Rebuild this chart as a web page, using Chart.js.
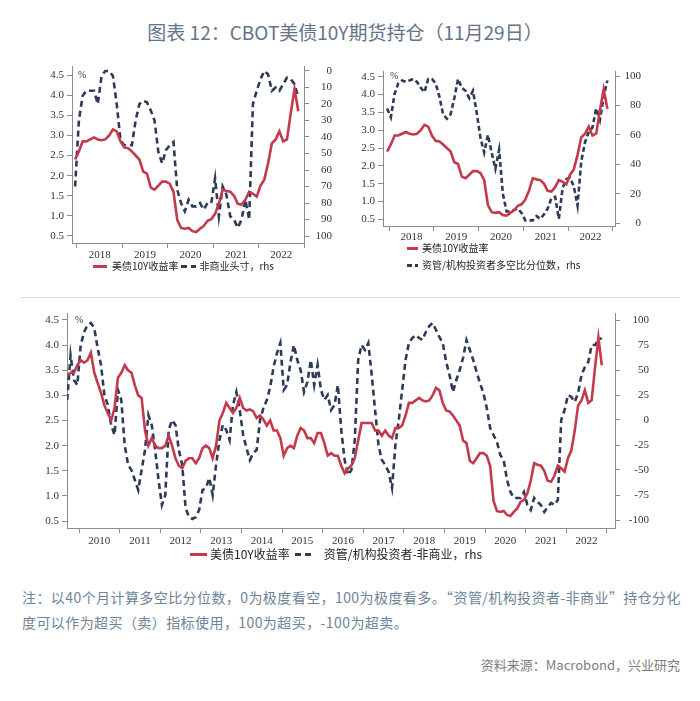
<!DOCTYPE html>
<html>
<head>
<meta charset="utf-8">
<script src="https://cdn.jsdelivr.net/npm/chart.js@4.4.0/dist/chart.umd.min.js"></script>
<style>
  html, body { margin: 0; padding: 0; background: #fff; }
  body { width: 700px; height: 701px; position: relative; overflow: hidden; font-family: "Noto Sans CJK SC", sans-serif; }
  .title { position: absolute; top: 18px; left: 0; width: 690px; text-align: center; font-size: 19px; line-height: 28px; color: #647387; }
  canvas { position: absolute; }
  .legend { position: absolute; display: flex; color: #222; white-space: nowrap; }
  .legend .item { display: flex; align-items: center; }
  .legend .swatch { display: inline-block; height: 3px; }
  .rule { position: absolute; left: 20px; top: 297px; width: 660px; height: 1px; background: #dedede; }
  .note { position: absolute; left: 22px; top: 585px; font-size: 14px; line-height: 25px; color: #6d8397; white-space: nowrap; letter-spacing: 0.42px; }
  .source { position: absolute; right: 20px; top: 655px; font-size: 13px; line-height: 20px; color: #7d7d7d; }
</style>
</head>
<body>
<div class="title">图表 12：CBOT美债10Y期货持仓（11月29日）</div>

<canvas id="c1" width="350" height="215" style="left:0;top:50px"></canvas>
<div class="legend" id="lg1" style="left:93px;top:259px;font-size:10px;line-height:14px"></div>

<canvas id="c2" width="340" height="200" style="left:350px;top:50px"></canvas>
<div class="legend" id="lg2" style="left:407px;top:241px;font-size:10px;line-height:14px;flex-direction:column;row-gap:3px"></div>

<div class="rule"></div>

<canvas id="c3" width="700" height="255" style="left:0;top:300px"></canvas>
<div class="legend" id="lg3" style="left:190px;top:546px;font-size:12px;line-height:16px"></div>

<div class="note">注：以40个月计算多空比分位数，0为极度看空，100为极度看多。“资管/机构投资者-非商业”持仓分化<br>度可以作为超买（卖）指标使用，100为超买，-100为超卖。</div>
<div class="source">资料来源：Macrobond，兴业研究</div>

<script>
"use strict";

// 美债10Y收益率 (%), monthly, 2009-09 .. 2022-11
const yieldStart = "2009-09";
const yield10y = [
  3.40, 3.45, 3.45, 3.60,
  3.70, 3.65, 3.70, 3.85, 3.45, 3.25, 3.05, 2.80, 2.65, 2.50, 2.75, 3.35,
  3.45, 3.60, 3.50, 3.45, 3.20, 3.00, 2.95, 2.30, 2.00, 2.15, 2.00, 1.95,
  1.95, 2.00, 2.20, 2.00, 1.75, 1.60, 1.55, 1.70, 1.75, 1.75, 1.65, 1.75,
  1.95, 2.00, 1.95, 1.75, 2.00, 2.50, 2.65, 2.85, 2.75, 2.65, 2.75, 2.95,
  2.75, 2.70, 2.72, 2.68, 2.55, 2.60, 2.52, 2.40, 2.50, 2.30, 2.30, 2.15,
  1.80, 1.95, 2.00, 1.95, 2.20, 2.35, 2.30, 2.15, 2.15, 2.05, 2.25, 2.25,
  2.05, 1.80, 1.85, 1.80, 1.80, 1.60, 1.45, 1.55, 1.60, 1.75, 2.10, 2.45,
  2.45, 2.45, 2.45, 2.30, 2.30, 2.20, 2.30, 2.20, 2.15, 2.35, 2.35, 2.40,
  2.60, 2.85, 2.85, 2.90, 2.95, 2.90, 2.88, 2.90, 3.00, 3.15, 3.10, 2.85,
  2.70, 2.68, 2.60, 2.50, 2.40, 2.10, 2.05, 1.70, 1.65, 1.75, 1.85, 1.85,
  1.80, 1.60, 0.90, 0.70, 0.68, 0.70, 0.62, 0.60, 0.68, 0.75, 0.88, 0.92,
  1.05, 1.30, 1.65, 1.62, 1.60, 1.50, 1.30, 1.28, 1.40, 1.60, 1.55, 1.48,
  1.75, 1.90, 2.30, 2.80, 2.90, 3.10, 2.85, 2.90, 3.55, 4.15, 3.60
];

// 资管/机构投资者-非商业 (rhs), monthly, 2009-09 .. 2022-11
const spreadStart = "2009-09";
const amMinusNonComm = [
  20, 65, 40, 35,
  75, 88, 95, 97, 92, 72, 55, 25, 15, -5, -15, 30,
  20, -25, -45, -50, -60, -70, -50, -30, 5, -5, -30, -60,
  -85, -75, -10, 0, -5, -30, -45, -88, -97, -99, -97, -90,
  -70, -68, -58, -75, -45, -20, -5, -10, -20, 15, 28, 10,
  -15, -28, -40, -33, -30, 0, 12, 20, 33, 53, 67, 77,
  30, 35, 58, 75, 60, 50, 28, 38, 60, 35, 55, 30,
  20, 25, 10, 15, 35, -10, -40, -55, -50, -20, 60, 75,
  70, 77, 45, 10, -25, -40, -45, -52, -68, -25, 0, 30,
  60, 77, 82, 85, 82, 80, 88, 94, 97, 90, 83, 77,
  58, 45, 28, 40, 50, 62, 80, 70, 60, 48, 37, 27,
  12, -8, -15, -22, -35, -40, -60, -72, -78, -78, -78, -72,
  -85, -90, -78, -82, -85, -92, -87, -83, -85, -80, 0, 10,
  25, 23, 18, 27, 45, 53, 58, 75, 75, 80, 82
];

// 非商业头寸分位数 (rhs, reversed), monthly, 2017-12 .. 2022-11
const pctStart = "2017-12";
const nonCommPct = [
  70,
  30, 15, 12, 12, 12, 20, 3, 0, 0, 3, 20, 42,
  45, 45, 45, 30, 20, 18, 19, 24, 30, 49, 56, 48,
  45, 43, 72, 80, 85, 78, 82, 82, 80, 84, 80, 80,
  65, 88, 70, 75, 88, 90, 95, 90, 78, 90, 20, 12,
  5, 0, 2, 12, 10, 12, 8, 4, 5, 8, 16
];

// 资管/机构投资者多空比分位数 (rhs), monthly, 2017-12 .. 2022-11
const amPct = [
  78,
  72, 88, 95, 97, 96, 97, 98, 96, 92, 89, 98, 98,
  95, 86, 74, 71, 74, 85, 98, 92, 90, 85, 90, 75,
  58, 48, 60, 48, 37, 50, 20, 8, 8, 9, 10, 7,
  2, 2, 2, 5, 3, 6, 10, 17, 18, 3, 24, 30,
  31, 25, 12, 42, 55, 62, 65, 78, 70, 86, 97
];

const red = "#c43a4c";
const navy = "#2e3b58";
const axisColor = "#8c8c8c";
const tickColor = "#333";
const tickFont = { family: "'Liberation Serif', 'Times New Roman', serif", size: 11 };

// month "YYYY-MM" -> decimal year at mid-month
const monthTimes = (start, n) => {
  const [y0, m0] = start.split("-").map(Number);
  return Array.from({ length: n }, (_, i) => y0 + (m0 - 1 + i + 0.5) / 12);
};

const toPoints = (start, values, from) => {
  const t = monthTimes(start, values.length);
  return values
    .map((v, i) => ({ x: t[i], y: v }))
    .filter((p) => from === undefined || p.x >= from);
};

const lineSet = (label, data, color, axis, dash) => ({
  label,
  data,
  borderColor: color,
  backgroundColor: color,
  borderWidth: 2.6,
  borderDash: dash || [],
  borderCapStyle: "butt",
  pointRadius: 0,
  tension: 0,
  yAxisID: axis,
});

const yearAxis = (min, max, half, h, pad) => ({
  type: "linear",
  min,
  max,
  grid: { drawOnChartArea: false, color: axisColor, tickLength: 5 },
  border: { color: axisColor },
  ticks: {
    stepSize: 1,
    includeBounds: false,
    autoSkip: false,
    maxRotation: 0,
    labelOffset: half,
    padding: pad,
    color: tickColor,
    font: tickFont,
    callback: (v) => (v < max - 0.5 ? String(v) : ""),
  },
  afterFit: (s) => {
    s.height = h;
  },
});

const pctAxis = (min, max, w) => ({
  type: "linear",
  position: "left",
  min,
  max,
  grid: { drawOnChartArea: false, color: axisColor, tickLength: 5 },
  border: { color: axisColor },
  ticks: {
    stepSize: 0.5,
    includeBounds: false,
    padding: 3,
    color: tickColor,
    font: tickFont,
    callback: (v) => v.toFixed(1),
  },
  afterFit: (s) => {
    s.width = w;
  },
});

// labels right-aligned at the outer edge of the axis box
const rhsAxis = (min, max, step, reverse, w) => ({
  type: "linear",
  position: "right",
  min,
  max,
  reverse,
  grid: { drawOnChartArea: false, color: axisColor, tickLength: 5 },
  border: { color: axisColor },
  ticks: {
    stepSize: step,
    includeBounds: false,
    padding: 0,
    crossAlign: "far",
    color: tickColor,
    font: tickFont,
  },
  afterFit: (s) => {
    s.width = w;
  },
});

// legend built as html from the datasets
const htmlLegend = {
  id: "htmlLegend",
  afterUpdate(chart, args, opts) {
    const box = document.getElementById(opts.containerID);
    box.innerHTML = "";
    chart.data.datasets.forEach((ds, i) => {
      const item = document.createElement("div");
      item.className = "item";
      item.style.marginRight = (opts.itemGap || 0) + "px";
      const sw = document.createElement("span");
      sw.className = "swatch";
      sw.style.width = opts.swatch[i] + "px";
      sw.style.marginRight = opts.textGap[i] + "px";
      const c = ds.borderColor;
      if (ds.borderDash.length) {
        const [d, g] = ds.borderDash;
        sw.style.background =
          "repeating-linear-gradient(90deg," + c + " 0 " + d + "px,transparent " + d + "px " + (d + g) + "px)";
      } else {
        sw.style.background = c;
      }
      const tx = document.createElement("span");
      tx.textContent = ds.label;
      item.append(sw, tx);
      box.append(item);
    });
  },
};

// the "%" mark next to the top left tick
const unitMark = {
  id: "unitMark",
  afterDraw(chart, args, opts) {
    const { ctx, chartArea } = chart;
    const y = chart.scales.y.getPixelForValue(4.5);
    ctx.save();
    ctx.font = "10px 'Liberation Serif'";
    ctx.fillStyle = tickColor;
    ctx.textBaseline = "middle";
    ctx.fillText("%", chartArea.left + opts.dx, y);
    ctx.restore();
  },
};

const makeChart = (id, datasets, scales, pad, legendOpts, dx) =>
  new Chart(document.getElementById(id), {
    type: "line",
    data: { datasets },
    options: {
      responsive: false,
      animation: false,
      events: [],
      layout: { padding: pad },
      scales,
      plugins: {
        legend: { display: false },
        tooltip: { enabled: false },
        htmlLegend: legendOpts,
        unitMark: { dx },
      },
    },
    plugins: [htmlLegend, unitMark],
  });

const main = () => {
  makeChart(
    "c1",
    [
      lineSet("美债10Y收益率", toPoints(yieldStart, yield10y, 2017.9), red, "y"),
      lineSet("非商业头寸，rhs", toPoints(pctStart, nonCommPct), navy, "y2", [6, 4]),
    ],
    {
      x: yearAxis(2017.89, 2023.0, 22.7, 22, 1),
      y: pctAxis(0.326, 4.724, 72),
      y2: rhsAxis(-3.0, 104.2, 10, true, 28),
    },
    { top: 16, left: 0, right: 18, bottom: 0 },
    { containerID: "lg1", swatch: [14, 15], textGap: [5, 3], itemGap: 3 },
    6
  );

  makeChart(
    "c2",
    [
      lineSet("美债10Y收益率", toPoints(yieldStart, yield10y, 2017.9), red, "y"),
      lineSet("资管/机构投资者多空比分位数，rhs", toPoints(pctStart, amPct), navy, "y2", [5, 3]),
    ],
    {
      x: yearAxis(2017.866, 2023.045, 22.4, 24, 0),
      y: pctAxis(0.312, 4.66, 33),
      y2: rhsAxis(-1.83, 103.4, 10, false, 26),
    },
    { top: 21, left: 0, right: 49, bottom: 0 },
    { containerID: "lg2", swatch: [11, 11], textGap: [4, 4] },
    7
  );

  makeChart(
    "c3",
    [
      lineSet("美债10Y收益率", toPoints(yieldStart, yield10y), red, "y"),
      lineSet("资管/机构投资者-非商业，rhs", toPoints(spreadStart, amMinusNonComm), navy, "y2", [6, 4]),
    ],
    {
      x: yearAxis(2009.704, 2023.2, 20.3, 27, 2),
      y: pctAxis(0.361, 4.639, 67),
      y2: rhsAxis(-108, 107, 25, false, 34),
    },
    { top: 13, left: 0, right: 51, bottom: 0 },
    { containerID: "lg3", swatch: [17, 19], textGap: [3, 10], itemGap: 5 },
    8
  );
};

main();
</script>
</body>
</html>
